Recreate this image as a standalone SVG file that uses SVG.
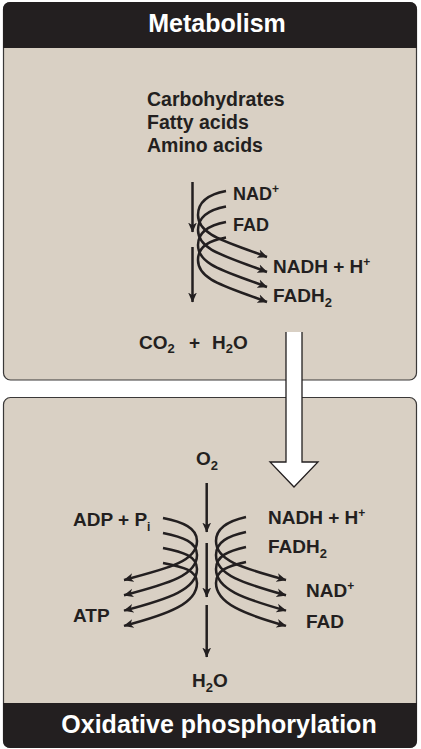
<svg xmlns="http://www.w3.org/2000/svg" width="421" height="749" viewBox="0 0 421 749">
<style>
.panel{fill:#d9d0c4;stroke:#3a3838;stroke-width:1.2}
.band{fill:#231f20}
.title{font-family:"Liberation Sans",Arial,sans-serif;font-weight:bold;font-size:25px;fill:#ffffff;text-anchor:middle}
.t{font-family:"Liberation Sans",Arial,sans-serif;font-weight:bold;fill:#231f20}
.l20{font-size:19.5px}
.l19{font-size:19px}
.l18{font-size:18px}
.c{fill:none;stroke:#231f20;stroke-width:2.5;marker-end:url(#ah)}
</style>
<defs>
<marker id="ah" viewBox="0 0 10 10" refX="9.5" refY="5" markerWidth="10" markerHeight="10" markerUnits="userSpaceOnUse" orient="auto">
<path d="M0,0.6 L10,5 L0,9.4 L2.8,5 Z" fill="#231f20"/>
</marker>
</defs>
<rect width="421" height="749" fill="#ffffff"/>

<g id="metabolism">
<rect class="panel" x="3.5" y="2.5" width="413" height="377.5" rx="7"/>
<path class="band" d="M3,48 V9.5 Q3,2 10.5,2 H409.5 Q417,2 417,9.5 V48 Z"/>
<text class="title" x="217" y="32">Metabolism</text>
</g>

<g id="oxphos">
<rect class="panel" x="3.5" y="397.5" width="413" height="350" rx="7"/>
<path class="band" d="M3,703 H417 V740.5 Q417,748 409.5,748 H10.5 Q3,748 3,740.5 Z"/>
<text class="title" x="219" y="733">Oxidative phosphorylation</text>
</g>

<g id="fuels">
<text class="t l20" x="147" y="106">Carbohydrates</text>
<text class="t l20" x="147" y="129">Fatty acids</text>
<text class="t l20" x="147" y="152">Amino acids</text>
</g>

<g id="top-labels">
<text class="t l18" x="233" y="200">NAD<tspan dy="-7" font-size="12">+</tspan></text>
<text class="t l18" x="233" y="231">FAD</text>
<text class="t l19" x="273" y="273">NADH + H<tspan dy="-7" font-size="12">+</tspan></text>
<text class="t l19" x="273" y="302">FADH<tspan dy="5" font-size="13">2</tspan></text>
<text class="t l19" x="139" y="349">CO<tspan dy="4" font-size="13">2</tspan></text>
<text class="t l19" x="189" y="349">+</text>
<text class="t l19" x="212" y="349">H<tspan dy="4" font-size="13">2</tspan><tspan dy="-4">O</tspan></text>
</g>

<g id="bottom-labels">
<text class="t l19" x="196" y="465">O<tspan dy="5" font-size="13">2</tspan></text>
<text class="t l19" x="73" y="526">ADP + P<tspan dy="5" font-size="12">i</tspan></text>
<text class="t l19" x="73" y="622">ATP</text>
<text class="t l19" x="268" y="524">NADH + H<tspan dy="-7" font-size="12">+</tspan></text>
<text class="t l19" x="268" y="553">FADH<tspan dy="5" font-size="13">2</tspan></text>
<text class="t l19" x="306" y="597">NAD<tspan dy="-7" font-size="12">+</tspan></text>
<text class="t l19" x="306" y="628">FAD</text>
<text class="t l19" x="192" y="687">H<tspan dy="5" font-size="13">2</tspan><tspan dy="-5">O</tspan></text>
</g>

<g id="connectors">
<path class="c" d="M192.5,182 V232"/>
<path class="c" d="M192.5,247 V302"/>
<path class="c" d="M226,191 C210,194 198,201 198,215 C198,235 225,241 267,257"/>
<path class="c" d="M226,206.5 C210,209.5 198,216 198,230 C198,250 225,256 267,272"/>
<path class="c" d="M226,222 C210,225 198,231 198,245 C198,265 225,271 267,287"/>
<path class="c" d="M226,237.5 C210,240.5 198,246 198,260 C198,280 225,286 267,302"/>
<path class="c" d="M206.7,483 V532"/>
<path class="c" d="M206.7,543 V597"/>
<path class="c" d="M206.7,605 V657"/>
<path class="c" d="M163,518 C183,522 197,528 197,541 C197,561 170,568 124,580"/>
<path class="c" d="M163,533 C183,537 197,542 197,555 C197,575 170,583.3 124,595.3"/>
<path class="c" d="M163,548 C183,552 197,556 197,569 C197,589 170,598.6 124,610.6"/>
<path class="c" d="M163,563 C183,567 197,570 197,583 C197,603 170,613.9 124,625.9"/>
<path class="c" d="M246,517 C228,521 216,528 216,541 C216,561 243,568 286,580"/>
<path class="c" d="M246,532 C228,536 216,542 216,555 C216,575 243,583.3 286,595.3"/>
<path class="c" d="M246,547 C228,551 216,556 216,569 C216,589 243,598.6 286,610.6"/>
<path class="c" d="M246,562 C228,566 216,570 216,583 C216,603 243,613.9 286,625.9"/>
<polygon points="286,332 302,332 302,462 318,462 294,487 270,462 286,462" fill="#ffffff"/>
<path d="M286,332 V462 H270 L294,487 L318,462 H302 V332" fill="none" stroke="#231f20" stroke-width="1.3" stroke-linejoin="miter"/>
</g>
</svg>
